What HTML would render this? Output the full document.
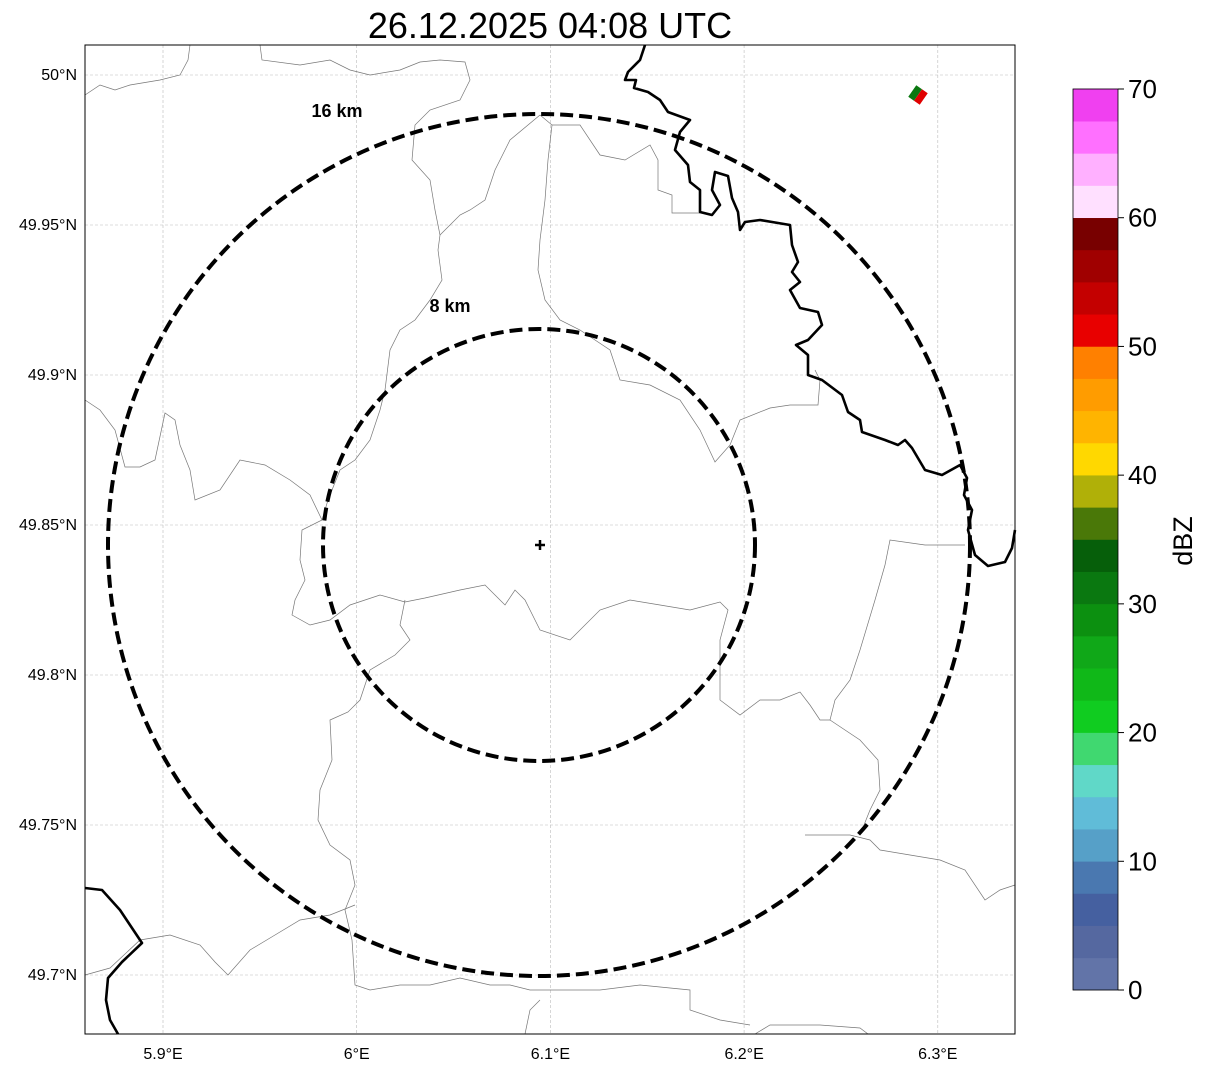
<!DOCTYPE html>
<html><head><meta charset="utf-8"><style>
body{margin:0;background:#fff;font-family:"Liberation Sans",sans-serif}
svg{display:block}
</style></head><body>
<svg id="c" width="1207" height="1069" font-family="Liberation Sans, sans-serif">
<text x="550" y="38" font-size="36" text-anchor="middle">26.12.2025 04:08 UTC</text>
<g id="grid"></g>
<g fill="none" stroke="#777" stroke-width="0.7">
<path d="M85,95 L100,85 L115,90 L130,85 L160,80 L180,75 L188,60 L190,45"/>
<path d="M260,45 L262,60 L300,65 L330,60 L350,70 L370,75 L400,70 L420,62 L440,60 L465,62 L470,80 L460,100 L430,110 L415,125 L412,160 L430,180 L435,210 L440,235 L438,250 L442,280 L430,300 L415,320 L400,330 L390,350 L385,390 L380,410 L370,440 L355,460 L340,470 L328,500 L322,520 L302,530 L300,560 L305,580 L295,600 L292,615 L310,625 L330,620 L350,605 L380,595 L405,602 L425,598 L460,590 L485,585 L495,595 L505,605 L515,590 L525,600 L540,630 L570,640 L600,610 L630,600 L660,605 L690,610 L720,602 L728,610 L720,640 L720,700 L740,715 L760,700 L780,700 L800,692 L810,705 L820,720 L830,720 L835,700 L850,680 L860,650 L875,600 L885,565 L890,540 L925,545 L965,545"/>
<path d="M85,400 L100,410 L115,430 L125,467 L140,467 L155,460 L165,413 L175,420 L180,445 L190,470 L195,500 L220,490 L240,460 L265,465 L290,480 L310,495 L322,520"/>
<path d="M540,115 L510,140 L495,170 L485,200 L470,210 L460,215 L450,225 L440,235"/>
<path d="M540,115 L552,125 L548,160 L545,200 L540,240 L538,270 L545,300 L560,320 L580,330 L610,350 L620,380 L650,385 L680,400 L700,430 L715,462 L730,445 L740,420 L770,408 L790,405 L818,405 L820,380 L815,370"/>
<path d="M552,125 L580,125 L600,155 L625,160 L650,145 L658,160 L658,190 L672,195 L672,213 L700,213"/>
<path d="M405,600 L400,625 L410,640 L395,655 L370,670 L360,700 L348,712 L330,720 L332,760 L320,790 L318,820 L330,845 L350,860 L355,885 L345,910 L352,940 L355,985 L370,990 L400,985 L430,985 L460,978 L490,985 L510,985 L530,990 L560,990 L600,990 L640,985 L690,990 L690,1010 L720,1020 L750,1025"/>
<path d="M85,975 L110,968 L140,940 L170,935 L200,945 L215,962 L228,975 L250,950 L275,935 L300,920 L330,915 L355,905"/>
<path d="M755,1034 L770,1025 L820,1025 L860,1028 L868,1034"/>
<path d="M525,1034 L530,1010 L540,1000"/>
<path d="M805,835 L850,835 L870,840 L880,850 L910,855 L940,860 L965,870 L985,900 L1000,890 L1015,885"/>
<path d="M830,720 L860,740 L878,760 L880,790 L870,810 L860,835"/>
</g>
<g fill="none" stroke="#000" stroke-width="2.6" stroke-linejoin="round">
<path d="M645,45 L640,60 L628,72 L625,80 L636,80 L634,88 L648,92 L660,100 L668,112 L690,120 L680,132 L675,150 L688,165 L690,182 L700,190 L700,212 L712,215 L720,205 L712,190 L715,172 L728,176 L732,198 L738,212 L740,230 L745,222 L760,220 L790,225 L792,245 L798,262 L792,272 L800,282 L790,290 L800,308 L818,312 L822,325 L808,340 L796,345 L808,355 L808,375 L822,380 L842,395 L848,412 L860,420 L862,432 L885,440 L898,445 L905,440 L912,448 L925,470 L942,475 L960,465 L967,478 L964,495 L972,510 L968,530 L975,555 L988,566 L1005,562 L1012,548 L1015,530"/>
<path d="M85,888 L102,890 L120,910 L142,943 L122,962 L108,978 L106,1000 L110,1020 L118,1034"/>
</g>
<g fill="none" stroke="#000" stroke-width="4" stroke-dasharray="13,6">
<ellipse cx="539" cy="545" rx="431" ry="431"/>
<ellipse cx="539" cy="545" rx="216" ry="216"/>
</g>
<text x="337" y="117" font-size="18" font-weight="bold" text-anchor="middle">16 km</text>
<text x="450" y="312" font-size="18" font-weight="bold" text-anchor="middle">8 km</text>
<path d="M535,545 H545 M540,540 V550" stroke="#000" stroke-width="2.5"/>
<g transform="rotate(35 918 95)">
<rect x="911" y="88" width="7" height="14" fill="#0a7810"/><rect x="918" y="88" width="7" height="14" fill="#e00000"/></g>
<rect x="85" y="45" width="930" height="989" fill="none" stroke="#000" stroke-width="1"/>
<g id="ticks" font-size="16"></g>
<g id="cbar"></g>
<text transform="translate(1192,541) rotate(-90)" font-size="27" text-anchor="middle">dBZ</text>
</svg>
<script>
const lonTicks=[5.9,6.0,6.1,6.2,6.3];
const lonLabels=["5.9°E","6°E","6.1°E","6.2°E","6.3°E"];
const latTicks=[50.0,49.95,49.9,49.85,49.8,49.75,49.7];
const latLabels=["50°N","49.95°N","49.9°N","49.85°N","49.8°N","49.75°N","49.7°N"];
const cbColors=["#6274a8","#5568a0","#4560a0","#4a78b0","#56a0c8","#60bcd8","#60d8c8","#40d870","#10cc20","#10b818","#10a818","#0c9010","#0a7810","#065f0a","#4a7808","#b0b008","#ffd800","#ffb400","#ff9c00","#ff8000","#e80000","#c40000","#a00000","#780000","#ffe0ff","#ffb0ff","#ff70ff","#f040f0"];
const cbTicks=[0,10,20,30,40,50,60,70];
const NS="http://www.w3.org/2000/svg";
const xs=v=>163+(v-5.9)*1937;
const ys=v=>75+(50.0-v)*3000;
const cy=v=>990-v*(901/70);
function mk(t,a,p){const e=document.createElementNS(NS,t);for(const k in a)e.setAttribute(k,a[k]);p.appendChild(e);return e;}
const g=document.getElementById('grid'),tk=document.getElementById('ticks'),cb=document.getElementById('cbar');
lonTicks.forEach((v,i)=>{
 const l=mk('line',{x1:xs(v),x2:xs(v),y1:45,y2:1034,stroke:'#bbb','stroke-width':0.6,'stroke-dasharray':'3,2'},g);
 
 
 const t=mk('text',{x:xs(v),y:1059,'text-anchor':'middle'},tk);t.textContent=lonLabels[i];
 
 
});
latTicks.forEach((v,i)=>{
 const l=mk('line',{x1:85,x2:1015,y1:ys(v),y2:ys(v),stroke:'#bbb','stroke-width':0.6,'stroke-dasharray':'3,2'},g);
 
 
 const t=mk('text',{x:77,y:ys(v)+5,'text-anchor':'end'},tk);t.textContent=latLabels[i];
 
 
});
cbColors.forEach((c,i)=>{
 const r=mk('rect',{x:1073,y:cy((i+1)*2.5)-0.3,width:45,height:cy(i*2.5)-cy((i+1)*2.5)+0.6,fill:c},cb);
 
 
});
mk('rect',{x:1073,y:cy(70),width:45,height:cy(0)-cy(70),fill:'none',stroke:'#000','stroke-width':0.8},cb);
cbTicks.forEach(v=>{
 mk('line',{x1:1118,x2:1124,y1:cy(v),y2:cy(v),stroke:'#000'},cb);
 const t=mk('text',{x:1128,y:cy(v)+9,'font-size':26},cb);t.textContent=v;
 
 
});
</script>
</body></html>
